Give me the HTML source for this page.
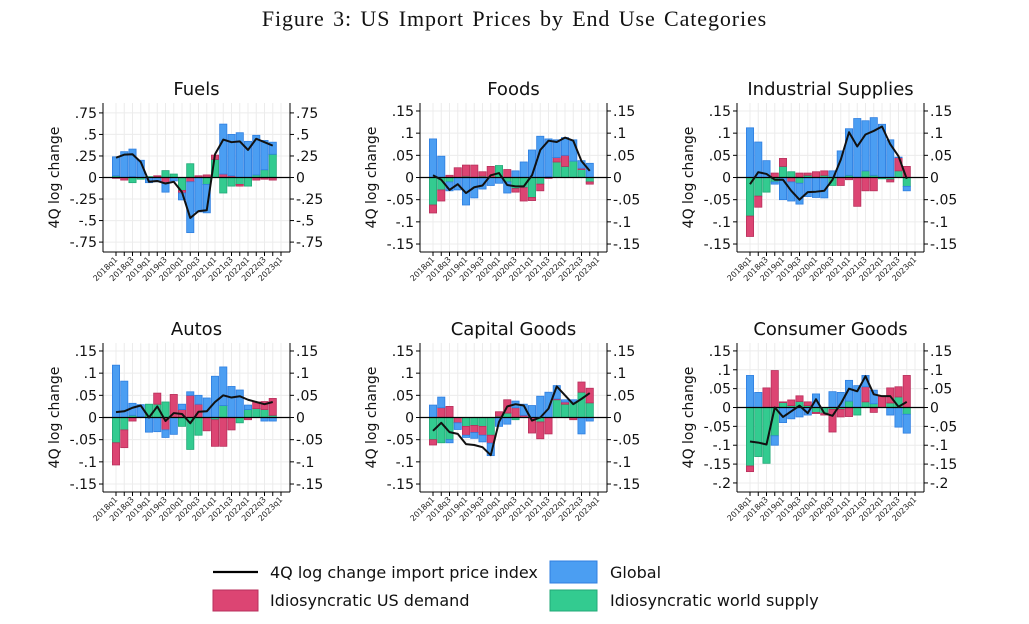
<!DOCTYPE html>
<html><head><meta charset="utf-8">
<style>
html,body{margin:0;padding:0;background:#fff;}
body{width:1029px;height:624px;position:relative;overflow:hidden;font-family:"DejaVu Sans","Liberation Sans",sans-serif;}
#title{position:absolute;left:0;top:6px;width:1029px;text-align:center;font-family:"Liberation Serif",serif;font-size:22px;letter-spacing:0.9px;word-spacing:2px;color:#111;}
svg{position:absolute;left:0;top:0;}
</style></head>
<body>
<div id="title">Figure 3: US Import Prices by End Use Categories</div>
<svg id="chart" width="1029" height="624"></svg>
<script>
const quarters = ["2018q1","2018q2","2018q3","2018q4","2019q1","2019q2","2019q3","2019q4","2020q1","2020q2","2020q3","2020q4","2021q1","2021q2","2021q3","2021q4","2022q1","2022q2","2022q3","2022q4","2023q1"];
const panelTitles = ["Fuels","Foods","Industrial Supplies","Autos","Capital Goods","Consumer Goods"];
const ticksWide = [0.75,0.5,0.25,0,-0.25,-0.5,-0.75];
const tickLabelsWide = [".75",".5",".25","0","-.25","-.5","-.75"];
const ticksStd = [0.15,0.1,0.05,0,-0.05,-0.1,-0.15];
const tickLabelsStd = [".15",".1",".05","0","-.05","-.1","-.15"];
const ticksCons = [0.15,0.1,0.05,0,-0.05,-0.1,-0.15,-0.2];
const tickLabelsCons = [".15",".1",".05","0","-.05","-.1","-.15","-.2"];

// Fuels
const fuelsGlobal = [.22,.30,.32,.20,-.06,-.05,-.11,-.04,-.08,-.59,-.40,-.33,0,.58,.48,.52,.42,.46,.34,.14];
const fuelsDemand = [-.01,-.03,.01,0,0,.01,-.06,0,-.03,-.05,.02,.03,.05,.04,.02,-.02,0,-.03,-.02,-.03];
const fuelsSupply = [.02,0,-.06,-.02,.01,.01,.08,.04,-.15,.16,0,-.08,.21,-.18,-.10,-.08,-.10,.03,.09,.27];
const fuelsLine = [.23,.265,.27,.18,-.05,-.04,-.07,-.05,-.17,-.47,-.39,-.38,.27,.44,.41,.42,.32,.45,.41,.37];
// Foods
const foodsGlobal = [.087,.048,-.02,-.028,-.062,-.046,-.026,-.018,-.013,-.025,.015,.035,.062,.093,.085,.04,.04,.048,.017,.032];
const foodsDemand = [-.018,-.025,.005,.022,.025,.028,.01,.025,0,.018,-.008,-.03,-.007,-.015,-.002,.01,.025,0,.003,-.005];
const foodsSupply = [-.062,-.028,-.01,0,.003,0,.003,0,.027,-.01,-.025,-.023,-.045,-.015,.002,.035,.025,.037,.018,-.01];
const foodsLine = [.005,-.005,-.028,-.015,-.035,-.022,-.018,.005,.01,-.017,-.02,-.02,.005,.062,.083,.08,.09,.083,.037,.015];
// Industrial
const indGlobal = [.112,.08,.038,-.005,-.05,-.043,-.047,-.043,-.045,-.046,.015,.06,.105,.133,.113,.13,.12,.085,.001,-.01];
const indDemand = [-.046,-.025,0,.01,.018,-.01,.01,.005,.013,.01,0,-.018,-.005,-.065,-.03,-.03,0,-.005,.03,.025];
const indSupply = [-.087,-.042,-.033,-.01,.025,.013,-.013,.005,0,.005,-.018,0,.005,0,.015,.005,-.003,-.005,.015,-.02];
const indLine = [-.015,.012,.008,-.005,-.005,-.03,-.05,-.033,-.032,-.03,-.005,.04,.102,.07,.097,.105,.115,.075,.048,-.003];
// Autos
const autosGlobal = [.118,.082,.027,.027,-.033,-.032,-.017,-.038,.012,.008,.02,.044,.093,.087,.07,.062,.01,0,-.008,-.008];
const autosDemand = [-.05,-.04,-.008,.002,0,.025,-.028,.052,.018,.05,.03,-.03,-.06,-.065,-.028,0,-.005,.015,.018,.038];
const autosSupply = [-.057,-.028,.005,0,.03,.03,.035,0,-.02,-.072,-.04,0,-.005,.027,0,-.012,.018,.02,.018,.005];
const autosLine = [.012,.014,.022,.027,0,.025,-.008,.01,.008,-.013,.013,.014,.035,.05,.045,.048,.04,.035,.03,.035];
// Capital
const capGlobal = [.028,.024,-.007,-.015,-.005,-.013,-.015,-.028,-.02,-.015,.015,.025,.027,.048,.057,.03,.005,.005,-.037,-.008];
const capDemand = [-.012,.022,.025,-.012,-.02,-.016,-.02,-.018,.01,.03,.022,.005,-.035,-.038,-.037,.002,.005,-.005,.023,.033];
const capSupply = [-.05,-.057,-.05,0,-.02,-.018,-.02,-.04,.003,.01,-.005,0,0,-.01,0,.04,.03,.035,.057,.033];
const capLine = [-.03,-.012,-.033,-.037,-.06,-.062,-.067,-.085,-.01,.025,.03,.027,-.007,0,.02,.07,.05,.03,.042,.055];
// Consumer
const consGlobal = [.085,.04,0,-.025,-.04,-.03,-.025,-.02,.036,0,.042,.04,.055,.058,.03,.036,0,-.02,-.052,-.05];
const consDemand = [-.015,0,.052,.098,.002,.015,.015,.01,-.003,-.005,-.06,-.02,-.024,0,.04,-.013,.03,.04,.027,.085];
const consSupply = [-.155,-.13,-.148,-.075,.013,.005,.016,.005,-.013,-.015,-.005,-.005,.017,-.02,.015,.01,0,.012,.028,-.018];
const consLine = [-.09,-.093,-.098,0,-.025,-.01,.005,-.015,.022,-.015,-.022,.01,.05,.043,.083,.035,.03,.03,.002,.015];

const NS="http://www.w3.org/2000/svg";
const svg=document.getElementById('chart');
function mk(tag,attrs,parent){const e=document.createElementNS(NS,tag);for(const k in attrs)e.setAttribute(k,attrs[k]);(parent||svg).appendChild(e);return e;}
const C={g:['#4b9ef2','#2f7fe0'],d:['#dc4573','#b8305c'],s:['#33cb90','#22a877']};
const panels=[
 {t:0,l:103,top:103,dom:[-.865,.865],ticks:ticksWide,tl:tickLabelsWide,g:fuelsGlobal,d:fuelsDemand,s:fuelsSupply,ln:fuelsLine,name:'fuels'},
 {t:1,l:420,top:103,dom:[-.168,.168],ticks:ticksStd,tl:tickLabelsStd,g:foodsGlobal,d:foodsDemand,s:foodsSupply,ln:foodsLine,name:'foods'},
 {t:2,l:737,top:103,dom:[-.168,.168],ticks:ticksStd,tl:tickLabelsStd,g:indGlobal,d:indDemand,s:indSupply,ln:indLine,name:'industrial-supplies'},
 {t:3,l:103,top:343,dom:[-.168,.168],ticks:ticksStd,tl:tickLabelsStd,g:autosGlobal,d:autosDemand,s:autosSupply,ln:autosLine,name:'autos'},
 {t:4,l:420,top:343,dom:[-.168,.168],ticks:ticksStd,tl:tickLabelsStd,g:capGlobal,d:capDemand,s:capSupply,ln:capLine,name:'capital-goods'},
 {t:5,l:737,top:343,dom:[-.224,.171],ticks:ticksCons,tl:tickLabelsCons,g:consGlobal,d:consDemand,s:consSupply,ln:consLine,name:'consumer-goods'}
];
const W=187,H=149,XD=[-1.576,21.09];
panels.forEach(p=>{
 const grp=mk('g',{});
 
 
 const x=i=>p.l+(i-XD[0])/(XD[1]-XD[0])*W;
 const y=v=>p.top+(p.dom[1]-v)/(p.dom[1]-p.dom[0])*H;
 const R=p.l+W,B=p.top+H;
 quarters.forEach((q,i)=>{mk('line',{x1:x(i),x2:x(i),y1:p.top,y2:B,stroke:'#ececec','stroke-width':1},grp);});
 p.ticks.forEach(v=>{mk('line',{x1:p.l,x2:R,y1:y(v),y2:y(v),stroke:'#ececec','stroke-width':1},grp);});
 const bw=7.2;
 p.g.forEach((_,i)=>{
  let pos=0,neg=0;
  [['s',p.s[i]],['d',p.d[i]],['g',p.g[i]]].forEach(([k,v])=>{
   if(!v)return;
   let a,b;
   if(v>0){a=pos;b=pos+v;pos=b;}else{a=neg;b=neg+v;neg=b;}
   const r=mk('rect',{x:x(i)-bw/2,y:Math.min(y(a),y(b)),width:bw,height:Math.abs(y(a)-y(b)),fill:C[k][0],stroke:C[k][1],'stroke-width':0.8},grp);
   
   
  });
 });
 mk('line',{x1:p.l,x2:R,y1:y(0),y2:y(0),stroke:'#000','stroke-width':1.2},grp);
 const pl=mk('polyline',{points:p.ln.map((v,i)=>x(i)+','+y(v)).join(' '),fill:'none',stroke:'#111','stroke-width':2,'stroke-linejoin':'round'},grp);
 
 
 mk('line',{x1:p.l,x2:p.l,y1:p.top,y2:B,stroke:'#000','stroke-width':1},grp);
 mk('line',{x1:R,x2:R,y1:p.top,y2:B,stroke:'#000','stroke-width':1},grp);
 mk('line',{x1:p.l,x2:R,y1:B,y2:B,stroke:'#000','stroke-width':1},grp);
 p.ticks.forEach((v,j)=>{
  mk('line',{x1:p.l-4,x2:p.l,y1:y(v),y2:y(v),stroke:'#000'},grp);
  mk('line',{x1:R,x2:R+4,y1:y(v),y2:y(v),stroke:'#000'},grp);
  const t1=mk('text',{x:p.l-6,y:y(v)+5,'text-anchor':'end','font-size':14,fill:'#111'},grp);t1.textContent=p.tl[j];
  
  
  const t2=mk('text',{x:R+6,y:y(v)+5,'text-anchor':'start','font-size':14,fill:'#111'},grp);t2.textContent=p.tl[j];
  
  
 });
 quarters.forEach((q,i)=>{
  mk('line',{x1:x(i),x2:x(i),y1:B,y2:B+4,stroke:'#000'},grp);
  if(i%2===0){
   const t=mk('text',{x:x(i)+2,y:B+8,'text-anchor':'end','font-size':8,fill:'#222',transform:'rotate(-45 '+(x(i)+2)+' '+(B+8)+')'},grp);t.textContent=q;
   
   
  }
 });
 const tt=mk('text',{x:p.l+W/2,y:p.top-8,'text-anchor':'middle','font-size':18,fill:'#111'},grp);tt.textContent=panelTitles[p.t];
 
 
 const yt=mk('text',{x:0,y:0,'text-anchor':'middle','font-size':14,fill:'#111',transform:'translate('+(p.l-44)+' '+(p.top+H/2)+') rotate(-90)'},grp);yt.textContent='4Q log change';
 
 
});
const lg=mk('g',{});


function ltext(x,y,s,n){const t=mk('text',{x:x,y:y,'font-size':16,fill:'#111'},lg);t.textContent=s;}
mk('line',{x1:213,x2:258,y1:572,y2:572,stroke:'#000','stroke-width':2.2},lg);
ltext(270,578,'4Q log change import price index','legend-entry-index');
mk('rect',{x:550,y:561,width:47,height:22,fill:C.g[0],stroke:C.g[1]},lg);
ltext(610,578,'Global','legend-entry-global');
mk('rect',{x:213,y:590,width:45,height:21,fill:C.d[0],stroke:C.d[1]},lg);
ltext(270,606,'Idiosyncratic US demand','legend-entry-demand');
mk('rect',{x:550,y:590,width:47,height:21,fill:C.s[0],stroke:C.s[1]},lg);
ltext(610,606,'Idiosyncratic world supply','legend-entry-supply');
</script>
</body></html>
